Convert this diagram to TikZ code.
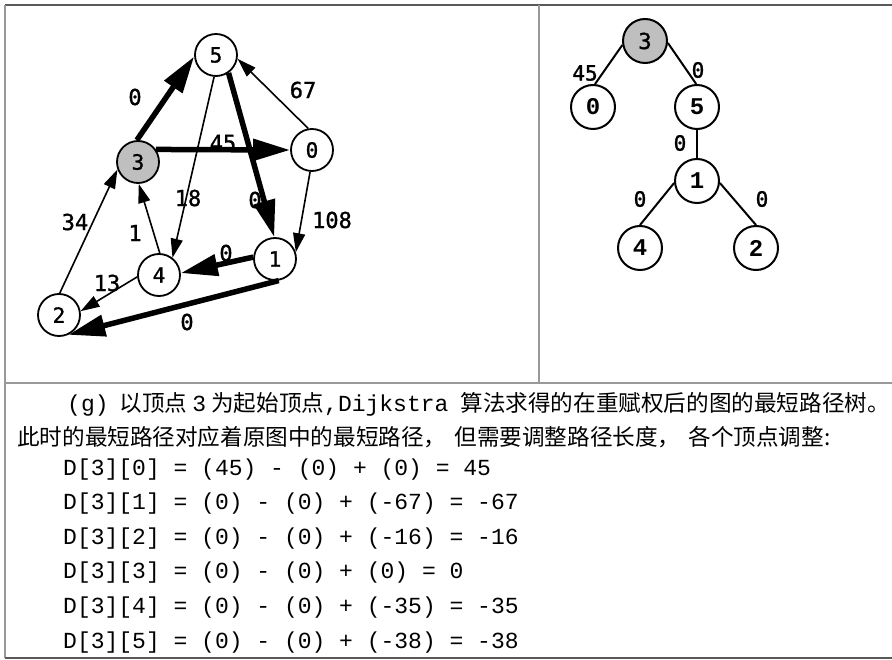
\documentclass[tikz,border=0pt]{standalone}
\usepackage{fontspec}
\usetikzlibrary{arrows.meta}
\newfontfamily\cjkf{Noto Sans CJK SC}
\newfontfamily\monof{Liberation Mono}
\newfontfamily\graphf{DejaVu Sans Mono}[FakeBold=1.2]
\newfontfamily\gmonof{DejaVu Sans Mono}[FakeBold=1.5]
\newcommand{\zhf}{\cjkf\fontsize{22.6}{26}\selectfont}
\newcommand{\mof}{\monof\fontsize{23}{26}\selectfont}
\begin{document}
\begin{tikzpicture}[x=1pt,y=-1pt,
  softline/.style={draw=black!40, line width=1.3pt},
  hardline/.style={draw=black!65, line width=2pt},
  gnode/.style={circle, draw, line width=1.8pt, minimum size=42pt, inner sep=0pt,
    fill=white, font=\graphf\fontsize{21}{21}\selectfont},
  srcnode/.style={gnode, fill=black!25},
  tnode/.style={circle, draw, line width=2pt, minimum size=44pt, inner sep=0pt,
    fill=white, font=\monof\bfseries\fontsize{24}{24}\selectfont},
  tsrc/.style={tnode, fill=black!25, font=\graphf\fontsize{22}{22}\selectfont},
  lightedge/.style={line width=1.6pt, -{Triangle[length=19pt,width=12pt]}},
  heavyedge/.style={line width=5.5pt, -{Triangle[length=37pt,width=21pt]}},
  treeedge/.style={line width=2pt},
  elab/.style={inner sep=0pt, font=\graphf\fontsize{22}{22}\selectfont},
  tlab/.style={inner sep=0pt, font=\gmonof\fontsize{21}{21}\selectfont},
  txt/.style={inner sep=0pt, anchor=base west}
]
\useasboundingbox (0,0) rectangle (892,660);
\fill[white] (0,0) rectangle (892,660);

% frame
\draw[hardline] (5,5) -- (892,5);
\draw[softline] (5,5) -- (5,658);
\draw[hardline] (5,658) -- (892,658);
\draw[softline] (539,5) -- (539,383);
\draw[softline] (5,383) -- (892,383);

% left graph nodes
\node[gnode] (n5) at (216,55) {5};
\node[srcnode] (n3) at (138,162) {3};
\node[gnode] (n0) at (312,150) {0};
\node[gnode] (n1) at (275,259) {1};
\node[gnode] (n4) at (159,275) {4};
\node[gnode] (n2) at (59,315) {2};

% edge labels
\node[elab] (l35) at (135,97) {0};
\node[elab] (l05) at (303,90) {67};
\node[elab] (l30) at (223,143) {45};
\node[elab] (l54) at (188,198) {18};
\node[elab] (l51) at (255,200) {0};
\node[elab] (l01) at (332,220) {108};
\node[elab] (l43) at (135,233) {1};
\node[elab] (l23) at (75,222) {34};
\node[elab] (l14) at (226,253) {0};
\node[elab] (l42) at (107,283) {13};
\node[elab] (l12) at (187,322) {0};

% edges
\draw[heavyedge] (n3.93) -- (n5.184);
\draw[lightedge] (n0.100) -- (n5.-10);
\draw[heavyedge] (n3.35) -- (n0.180);
\draw[lightedge] (n5.-95) -- (n4.52);
\draw[heavyedge] (n5.-55) -- (n1.92);
\draw[lightedge] (n0.-95) -- (n1.18);
\draw[lightedge] (n4.88) -- (n3.-88);
\draw[lightedge] (n2.88) -- (n3.-160);
\draw[heavyedge] (n1.175) -- (n4.5);
\draw[lightedge] (n4.-175) -- (n2.10);
\draw[heavyedge] (n1.-80) -- (n2.-65);

% right tree
\node[tsrc] (t3) at (645,41) {3};
\node[tnode] (t0) at (593,107) {0};
\node[tnode] (t5) at (697,107) {5};
\node[tnode] (t1) at (697,181) {1};
\node[tnode] (t4) at (640,248) {4};
\node[tnode] (t2) at (756,248) {2};
\draw[treeedge] (t3.190) -- (t0.85);
\draw[treeedge] (t3.-5) -- (t5.92);
\draw[treeedge] (t5) -- (t1);
\draw[treeedge] (t1.185) -- (t4.90);
\draw[treeedge] (t1.-5) -- (t2.90);
\node[tlab] (m30) at (585,73) {45};
\node[tlab] (m35) at (698,70) {0};
\node[tlab] (m51) at (680,143) {0};
\node[tlab] (m14) at (640,199) {0};
\node[tlab] (m12) at (762,199) {0};

% text
\node[txt] (p1) at (67,411.6) {\mof(g)\hspace{11pt}\zhf 以顶点\hspace{5pt}\mof 3\hspace{5pt}\zhf 为起始顶点\mof ,Dijkstra\hspace{12pt}\zhf 算法求得的在重赋权后的图的最短路径树。};
\node[txt] (p2) at (17,445.6) {\zhf 此时的最短路径对应着原图中的最短路径，\hspace{8pt}但需要调整路径长度，\hspace{8pt}各个顶点调整:};
\node[txt] (d0) at (63,475) {\mof D[3][0] = (45) - (0) + (0) = 45};
\node[txt] (d1) at (63,509.6) {\mof D[3][1] = (0) - (0) + (-67) = -67};
\node[txt] (d2) at (63,544.2) {\mof D[3][2] = (0) - (0) + (-16) = -16};
\node[txt] (d3) at (63,578.8) {\mof D[3][3] = (0) - (0) + (0) = 0};
\node[txt] (d4) at (63,613.4) {\mof D[3][4] = (0) - (0) + (-35) = -35};
\node[txt] (d5) at (63,648) {\mof D[3][5] = (0) - (0) + (-38) = -38};
\end{tikzpicture}
\end{document}
